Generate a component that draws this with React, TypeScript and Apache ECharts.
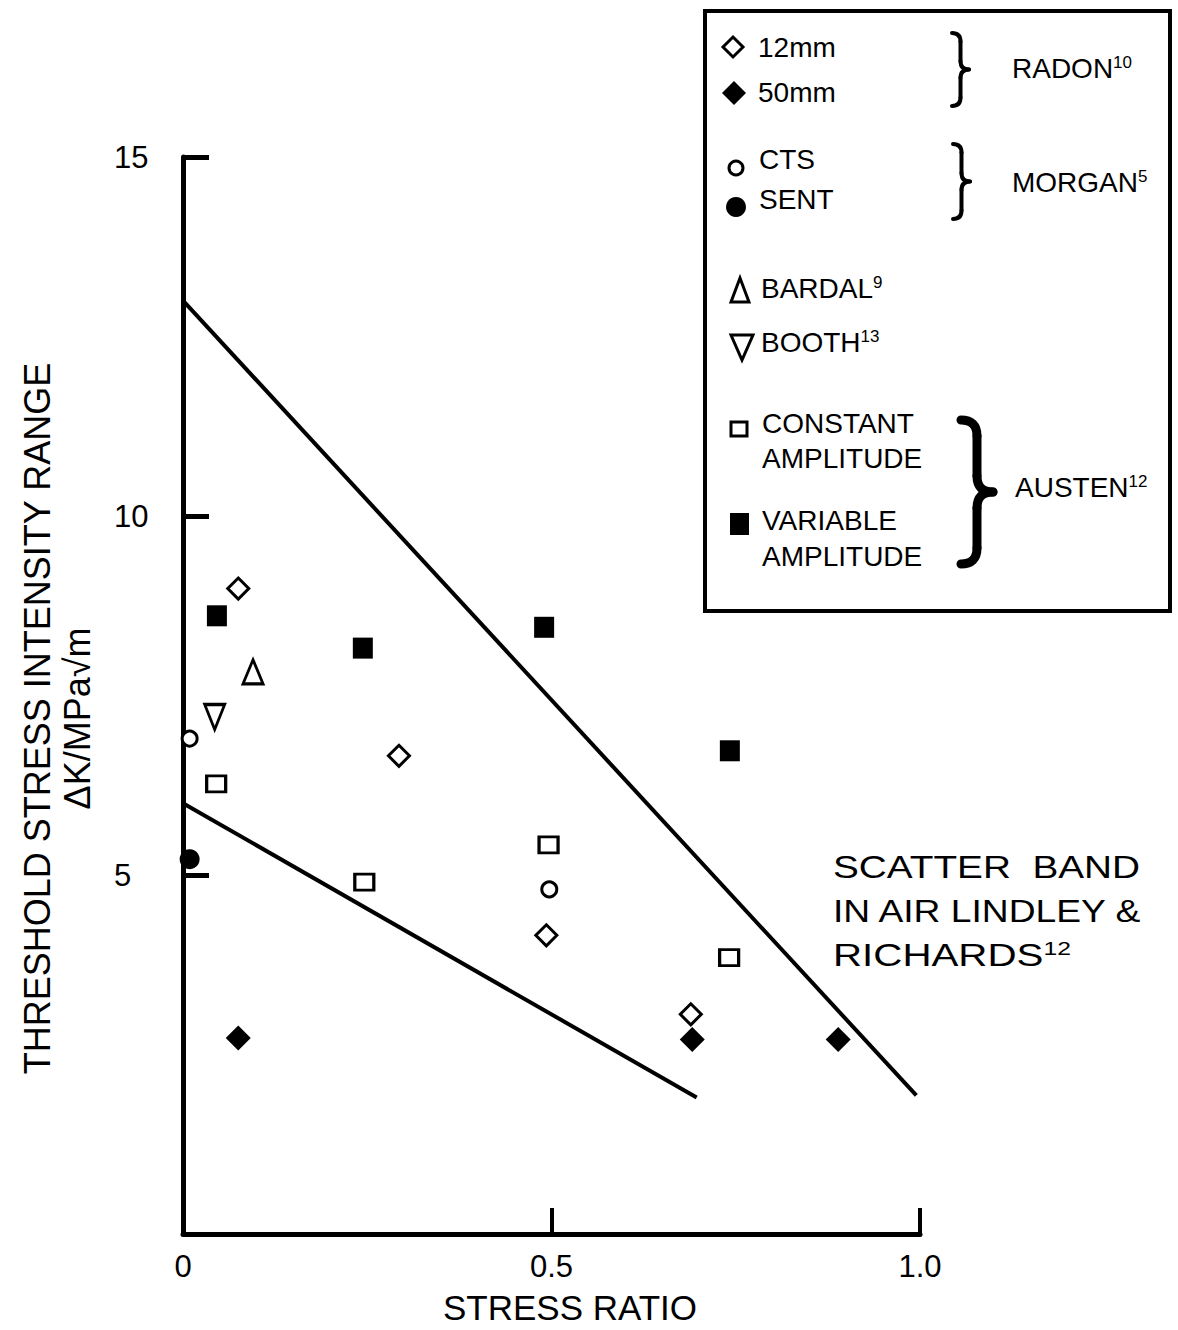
import React, { useEffect, useRef } from 'react';
import * as echarts from 'echarts';

const FONT = '"Liberation Sans", Arial, Helvetica, sans-serif';

// Axis ticks
const xTicks = [0, 0.5, 1.0];
const yTicks = [0, 5, 10, 15];

// Data: [stress ratio, threshold ΔK]
const radon12mm = [[0.075, 8.99], [0.293, 6.66], [0.493, 4.16], [0.689, 3.06]];
const radon50mm = [[0.075, 2.73], [0.691, 2.71], [0.889, 2.71]];
const morganCTS = [[0.009, 6.9], [0.497, 4.8]];
const morganSENT = [[0.009, 5.22]];
const bardal = [[0.095, 7.83]];
const booth = [[0.043, 7.2]];
const austenConstant = [[0.045, 6.27], [0.246, 4.9], [0.496, 5.42], [0.741, 3.85]];
const austenVariable = [[0.046, 8.61], [0.244, 8.16], [0.49, 8.45], [0.742, 6.73]];
const bandUpper = [[0, 13.0], [0.995, 1.93]];
const bandLower = [[0, 6.0], [0.697, 1.9]];

const openStyle = { color: '#fff', borderColor: '#000', borderWidth: 3, opacity: 1 };
const filledStyle = { color: '#000', borderWidth: 0, opacity: 1 };

function txt(x: number, y: number, text: string, fontSize = 28, extra: any = {}) {
  return {
    type: 'text', x, y, z: 10, ...extra,
    style: { text, fontSize, fontFamily: FONT, fill: '#000', verticalAlign: 'middle', align: 'left' },
  };
}

function supTxt(x: number, y: number, main: string, sup: string, fontSize = 28, supSize = 17, extra: any = {}) {
  return {
    type: 'text', x, y, z: 10, ...extra,
    style: {
      text: `{a|${main}}{s|${sup}}`,
      verticalAlign: 'middle', align: 'left',
      rich: {
        a: { fontSize, fontFamily: FONT, fill: '#000' },
        s: { fontSize: supSize, fontFamily: FONT, fill: '#000', verticalAlign: 'top' },
      },
    },
  };
}

function brace(x0: number, yTop: number, yBot: number, w: number, lw: number) {
  const xm = x0 + w / 2;
  const ym = (yTop + yBot) / 2;
  const r = w / 2;
  const st = { stroke: '#000', lineWidth: lw, fill: 'none', lineCap: 'round' };
  return [
    { type: 'bezierCurve', z: 10, shape: { x1: x0, y1: yTop, x2: xm, y2: yTop + r, cpx1: xm, cpy1: yTop }, style: st },
    { type: 'line', z: 10, shape: { x1: xm, y1: yTop + r, x2: xm, y2: ym - r }, style: st },
    { type: 'bezierCurve', z: 10, shape: { x1: xm, y1: ym - r, x2: x0 + w, y2: ym, cpx1: xm, cpy1: ym }, style: st },
    { type: 'bezierCurve', z: 10, shape: { x1: x0 + w, y1: ym, x2: xm, y2: ym + r, cpx1: xm, cpy1: ym }, style: st },
    { type: 'line', z: 10, shape: { x1: xm, y1: ym + r, x2: xm, y2: yBot - r }, style: st },
    { type: 'bezierCurve', z: 10, shape: { x1: xm, y1: yBot - r, x2: x0, y2: yBot, cpx1: xm, cpy1: yBot }, style: st },
  ];
}

export default function App() {
  const ref = useRef<HTMLDivElement>(null);
  useEffect(() => {
    const chart = echarts.init(ref.current!, null, { renderer: 'svg' });
    const legendGraphics: any[] = [
      { type: 'rect', z: 9, shape: { x: 705, y: 11, width: 465, height: 600 }, style: { fill: '#fff', stroke: '#000', lineWidth: 4 } },
      // markers
      { type: 'polygon', z: 10, shape: { points: [[733, 37], [743, 47], [733, 57], [723, 47]] }, style: { fill: '#fff', stroke: '#000', lineWidth: 3 } },
      { type: 'polygon', z: 10, shape: { points: [[734, 81], [746, 93], [734, 105], [722, 93]] }, style: { fill: '#000' } },
      { type: 'circle', z: 10, shape: { cx: 736, cy: 168, r: 7 }, style: { fill: '#fff', stroke: '#000', lineWidth: 3 } },
      { type: 'circle', z: 10, shape: { cx: 736, cy: 207, r: 10 }, style: { fill: '#000' } },
      { type: 'polygon', z: 10, shape: { points: [[740, 278], [749, 302], [731, 302]] }, style: { fill: '#fff', stroke: '#000', lineWidth: 3 } },
      { type: 'polygon', z: 10, shape: { points: [[731, 335], [753, 335], [742, 360]] }, style: { fill: '#fff', stroke: '#000', lineWidth: 3 } },
      { type: 'rect', z: 10, shape: { x: 731, y: 422, width: 16, height: 14 }, style: { fill: '#fff', stroke: '#000', lineWidth: 3 } },
      { type: 'rect', z: 10, shape: { x: 730, y: 513, width: 19, height: 22 }, style: { fill: '#000' } },
      // labels
      txt(758, 47, '12mm'),
      txt(758, 92, '50mm'),
      txt(759, 159, 'CTS'),
      txt(759, 199, 'SENT'),
      supTxt(761, 288, 'BARDAL', '9'),
      supTxt(761, 342, 'BOOTH', '13'),
      txt(762, 423, 'CONSTANT'),
      txt(762, 458, 'AMPLITUDE'),
      txt(762, 520, 'VARIABLE'),
      txt(762, 556, 'AMPLITUDE'),
      supTxt(1012, 68, 'RADON', '10'),
      supTxt(1012, 182, 'MORGAN', '5'),
      supTxt(1015, 487, 'AUSTEN', '12'),
      ...brace(952, 33, 106, 17, 4),
      ...brace(953, 144, 219, 17, 4),
      ...brace(961, 420, 564, 32, 9),
      // scatter band annotation
      txt(833, 867, 'SCATTER  BAND', 31, { scaleX: 1.25 }),
      txt(833, 911, 'IN AIR LINDLEY &', 31, { scaleX: 1.2 }),
      supTxt(833, 955, 'RICHARDS', '12', 31, 19, { scaleX: 1.3 }),
    ];

    const option: any = {
      animation: false,
      backgroundColor: '#fff',
      grid: { left: 183, right: 258, top: 157, bottom: 93, containLabel: false },
      xAxis: {
        type: 'value',
        min: xTicks[0],
        max: xTicks[xTicks.length - 1],
        interval: 0.5,
        axisLine: { lineStyle: { color: '#000', width: 5 } },
        axisTick: { inside: true, length: 26, lineStyle: { color: '#000', width: 4 } },
        axisLabel: {
          fontSize: 31, fontFamily: FONT, color: '#000', margin: 17,
          formatter: (v: number) => (v === 0 ? '0' : v.toFixed(1)),
        },
        splitLine: { show: false },
        name: 'STRESS RATIO',
        nameLocation: 'middle',
        nameGap: 56,
        nameTextStyle: { fontSize: 35, fontFamily: FONT, color: '#000', padding: [0, 0, 0, 37] },
      },
      yAxis: {
        type: 'value',
        min: yTicks[0],
        max: yTicks[yTicks.length - 1],
        interval: 5,
        axisLine: { lineStyle: { color: '#000', width: 5 } },
        axisTick: { inside: true, length: 26, lineStyle: { color: '#000', width: 5 } },
        axisLabel: {
          fontSize: 31, fontFamily: FONT, color: '#000', margin: 69, align: 'left',
          showMinLabel: false,
          formatter: (v: number) => (v === 0 ? '' : String(v)),
        },
        splitLine: { show: false },
        name: 'THRESHOLD STRESS INTENSITY RANGE\nΔK/MPa√m',
        nameLocation: 'middle',
        nameRotate: 90,
        nameGap: 86,
        nameTextStyle: { fontSize: 36, lineHeight: 40, fontFamily: FONT, color: '#000', align: 'center', padding: [0, 46, 0, 0] },
      },
      series: [
        { name: 'Scatter band upper', type: 'line', data: bandUpper, symbol: 'none', lineStyle: { color: '#000', width: 4 }, z: 1 },
        { name: 'Scatter band lower', type: 'line', data: bandLower, symbol: 'none', lineStyle: { color: '#000', width: 4 }, z: 1 },
        { name: '12mm', type: 'scatter', data: radon12mm, symbol: 'diamond', symbolSize: 21, itemStyle: openStyle },
        { name: '50mm', type: 'scatter', data: radon50mm, symbol: 'diamond', symbolSize: 25, itemStyle: filledStyle },
        { name: 'CTS', type: 'scatter', data: morganCTS, symbol: 'circle', symbolSize: 15, itemStyle: openStyle },
        { name: 'SENT', type: 'scatter', data: morganSENT, symbol: 'circle', symbolSize: 20, itemStyle: filledStyle },
        { name: 'BARDAL', type: 'scatter', data: bardal, symbol: 'triangle', symbolSize: [20, 24], itemStyle: openStyle },
        { name: 'BOOTH', type: 'scatter', data: booth, symbol: 'triangle', symbolRotate: 180, symbolSize: [20, 25], itemStyle: openStyle },
        { name: 'CONSTANT AMPLITUDE', type: 'scatter', data: austenConstant, symbol: 'rect', symbolSize: [19, 16], itemStyle: openStyle },
        { name: 'VARIABLE AMPLITUDE', type: 'scatter', data: austenVariable, symbol: 'rect', symbolSize: [20, 21], itemStyle: filledStyle },
      ],
      graphic: legendGraphics,
    };
    chart.setOption(option);
    return () => chart.dispose();
  }, []);
  return (
    <div
      ref={ref}
      style={{ position: 'absolute', left: 0, top: 0, width: 1178, height: 1330, background: '#fff' }}
    />
  );
}
